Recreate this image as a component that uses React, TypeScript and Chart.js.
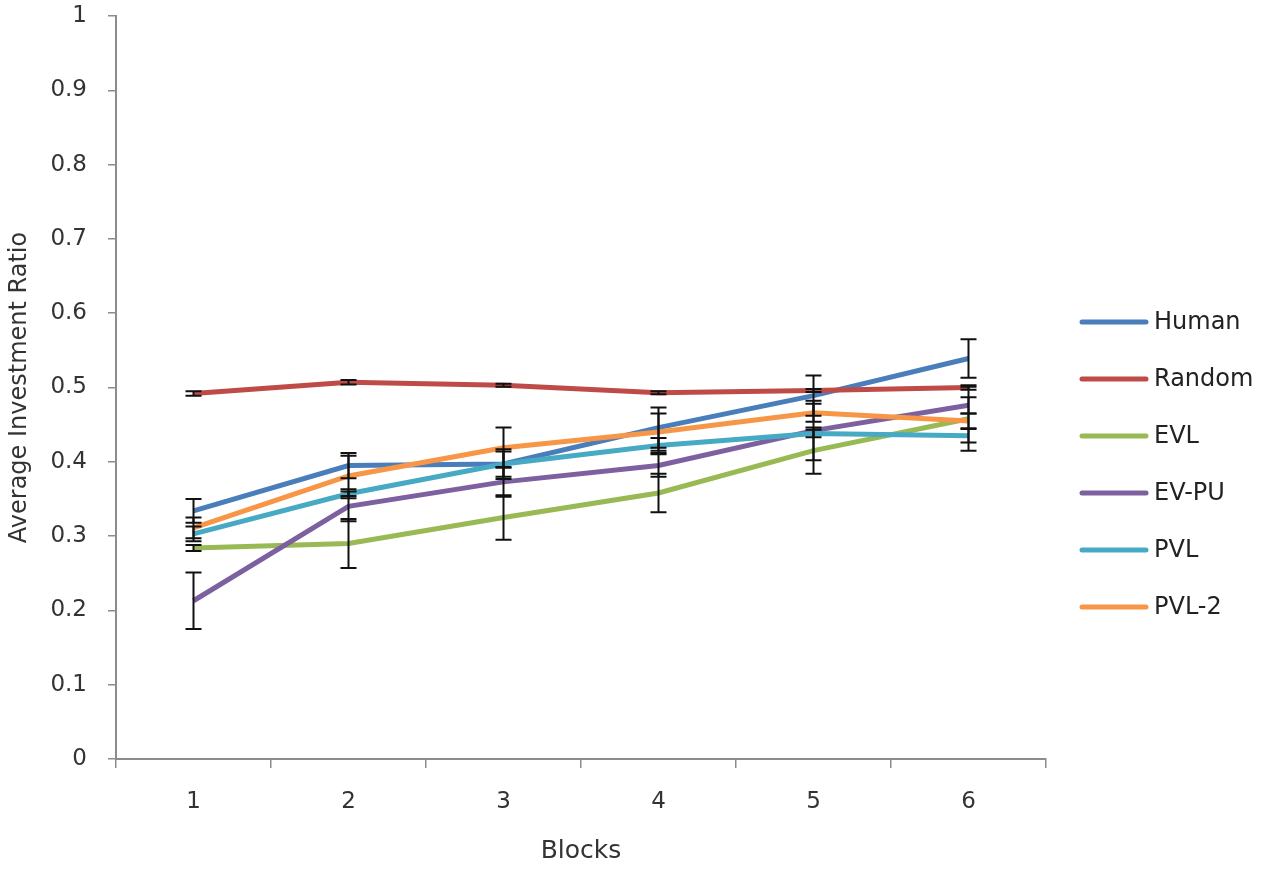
import React, { useEffect, useRef } from 'react';
import { Chart, registerables } from 'chart.js';

Chart.register(...registerables);

const blocks = ['1', '2', '3', '4', '5', '6'];
const seriesNames = ['Human', 'Random', 'EVL', 'EV-PU', 'PVL', 'PVL-2'];
const seriesColors = ['#4a7ebb', '#be4b48', '#98b954', '#7d60a0', '#46aac5', '#f79646'];

const human = [0.334, 0.395, 0.397, 0.446, 0.489, 0.539];
const random = [0.492, 0.507, 0.503, 0.493, 0.496, 0.5];
const evl = [0.284, 0.29, 0.325, 0.358, 0.415, 0.458];
const evpu = [0.213, 0.34, 0.373, 0.395, 0.442, 0.476];
const pvl = [0.303, 0.357, 0.397, 0.422, 0.438, 0.435];
const pvl2 = [0.311, 0.381, 0.419, 0.44, 0.466, 0.455];

// half-widths of the error bars
const humanErr = [0.016, 0.017, 0.017, 0.027, 0.027, 0.026];
const randomErr = [0.003, 0.003, 0.002, 0.002, 0.002, 0.003];
const evlErr = [0.004, 0.033, 0.03, 0.026, 0.031, 0.043];
const evpuErr = [0.038, 0.02, 0.02, 0.015, 0.04, 0.011];
const pvlErr = [0.01, 0.006, 0.02, 0.01, 0.005, 0.009];
const pvl2Err = [0.014, 0.027, 0.027, 0.025, 0.012, 0.01];

const seriesValues = [human, random, evl, evpu, pvl, pvl2];
const seriesErrors = [humanErr, randomErr, evlErr, evpuErr, pvlErr, pvl2Err];

const FONT = "'DejaVu Sans', sans-serif";
const TEXT = '#333333';
const AXIS = '#8c8c8c';

const errorBars = {
   id: 'errorBars',
   afterDatasetsDraw(chart: Chart) {
      const ctx = chart.ctx;
      const yScale = chart.scales.y;
      ctx.save();
      ctx.strokeStyle = '#111';
      ctx.lineWidth = 2;
      chart.data.datasets.forEach((ds: any, i: number) => {
         const meta = chart.getDatasetMeta(i);
         const errs = seriesErrors[i];
         meta.data.forEach((pt: any, j: number) => {
            const v = (ds.data as number[])[j];
            const x = pt.x;
            const yTop = yScale.getPixelForValue(v + errs[j]);
            const yBot = yScale.getPixelForValue(v - errs[j]);
            ctx.beginPath();
            ctx.moveTo(x, yTop);
            ctx.lineTo(x, yBot);
            ctx.moveTo(x - 8, yTop);
            ctx.lineTo(x + 8, yTop);
            ctx.moveTo(x - 8, yBot);
            ctx.lineTo(x + 8, yBot);
            ctx.stroke();
         });
      });
      ctx.restore();
   },
};

const sideLegend = {
   id: 'sideLegend',
   afterDraw(chart: Chart) {
      const ctx = chart.ctx;
      const x0 = chart.chartArea.right + 36;
      ctx.save();
      ctx.font = `24px ${FONT}`;
      ctx.textBaseline = 'middle';
      ctx.fillStyle = '#222';
      seriesNames.forEach((name, i) => {
         const y = 322 + i * 57;
         ctx.strokeStyle = seriesColors[i];
         ctx.lineWidth = 5;
         ctx.lineCap = 'round';
         ctx.beginPath();
         ctx.moveTo(x0, y);
         ctx.lineTo(x0 + 64, y);
         ctx.stroke();
         ctx.fillText(name, x0 + 72, y + 1);
      });
      ctx.restore();
   },
};

const InvestmentChart = () => {
   const canvasRef = useRef<HTMLCanvasElement | null>(null);

   useEffect(() => {
      document.body.style.margin = '0';
      if (canvasRef.current === null) {
         return;
      }
      const chart = new Chart(canvasRef.current, {
         type: 'line',
         data: {
            labels: blocks,
            datasets: seriesNames.map((name, i) => ({
               label: name,
               data: seriesValues[i],
               borderColor: seriesColors[i],
               backgroundColor: seriesColors[i],
               borderWidth: 5,
               pointRadius: 0,
               tension: 0,
               order: seriesNames.length - i,
            })),
         },
         options: {
            responsive: false,
            animation: false,
            layout: { padding: { top: 16, right: 221, left: 0, bottom: 0 } },
            plugins: {
               legend: { display: false },
               tooltip: { enabled: false },
            },
            scales: {
               x: {
                  offset: true,
                  afterFit: (scale: any) => {
                     scale.height = 111;
                     scale.paddingLeft = 0;
                     scale.paddingRight = 0;
                  },
                  grid: {
                     offset: true,
                     drawOnChartArea: false,
                     drawTicks: true,
                     tickLength: 9,
                     color: AXIS,
                     lineWidth: 1.5,
                  },
                  border: { color: AXIS, width: 2 },
                  ticks: { color: TEXT, font: { family: FONT, size: 23 }, padding: 20 },
                  title: {
                     display: true,
                     text: 'Blocks',
                     color: TEXT,
                     font: { family: FONT, size: 25 },
                     padding: 4,
                  },
               },
               y: {
                  min: 0,
                  max: 1,
                  afterFit: (scale: any) => {
                     scale.width = 116;
                     scale.paddingTop = 0;
                     scale.paddingBottom = 0;
                  },
                  grid: {
                     drawOnChartArea: false,
                     drawTicks: true,
                     tickLength: 8,
                     color: AXIS,
                     lineWidth: 1.5,
                  },
                  border: { color: AXIS, width: 2 },
                  ticks: {
                     stepSize: 0.1,
                     color: TEXT,
                     font: { family: FONT, size: 23 },
                     padding: 21,
                     callback: (v: any) => String(Math.round(Number(v) * 10) / 10),
                  },
                  title: {
                     display: true,
                     text: 'Average Investment Ratio',
                     color: TEXT,
                     font: { family: FONT, size: 24 },
                     padding: 5,
                  },
               },
            },
         },
         plugins: [errorBars, sideLegend],
      });

      return () => {
         chart.destroy();
      };
   }, []);

   return <canvas ref={canvasRef} width='1267' height='870' style={{ display: 'block' }} />;
};

export default function App() {
   return <InvestmentChart />;
}
